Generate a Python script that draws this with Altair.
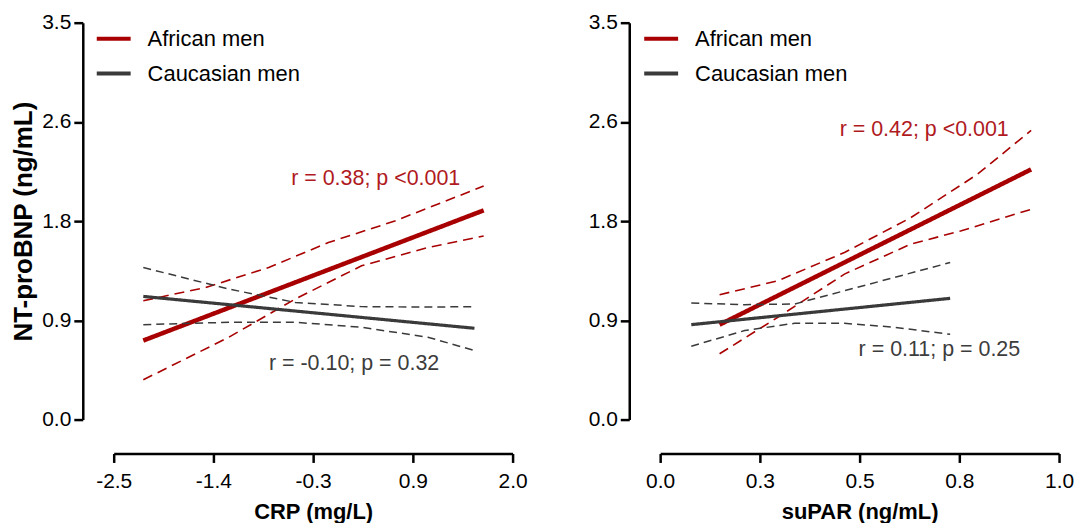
import altair as alt
import pandas as pd

groups = ["African men", "Caucasian men"]

# ---- Left panel: CRP (mg/L) ----
crp_af_fit_x = [-2.166, 1.674]
crp_af_fit_y = [0.697, 1.845]
crp_af_up_x = [-2.166, -1.462, -0.751, -0.078, 0.671, 1.674]
crp_af_up_y = [1.048, 1.165, 1.341, 1.561, 1.751, 2.059]
crp_af_lo_x = [-2.166, -1.201, -0.452, 0.296, 1.045, 1.674]
crp_af_lo_y = [0.351, 0.726, 1.063, 1.356, 1.517, 1.619]

crp_ca_fit_x = [-2.166, 1.570]
crp_ca_fit_y = [1.086, 0.805]
crp_ca_up_x = [-2.166, -1.201, -0.452, 0.296, 1.045, 1.570]
crp_ca_up_y = [1.341, 1.151, 1.033, 0.996, 0.992, 0.996]
crp_ca_lo_x = [-2.166, -1.201, -0.452, 0.296, 1.045, 1.570]
crp_ca_lo_y = [0.837, 0.858, 0.858, 0.814, 0.726, 0.609]

# ---- Right panel: suPAR (ng/mL) ----
supar_af_fit_x = [0.149, 0.930]
supar_af_fit_y = [0.837, 2.206]
supar_af_up_x = [0.149, 0.295, 0.462, 0.628, 0.795, 0.930]
supar_af_up_y = [1.101, 1.224, 1.473, 1.780, 2.162, 2.550]
supar_af_lo_x = [0.149, 0.295, 0.462, 0.628, 0.753, 0.930]
supar_af_lo_y = [0.580, 0.902, 1.283, 1.547, 1.663, 1.854]

supar_ca_fit_x = [0.078, 0.727]
supar_ca_fit_y = [0.837, 1.069]
supar_ca_up_x = [0.078, 0.212, 0.337, 0.462, 0.587, 0.727]
supar_ca_up_y = [1.028, 1.013, 1.019, 1.136, 1.253, 1.385]
supar_ca_lo_x = [0.078, 0.212, 0.337, 0.462, 0.587, 0.727]
supar_ca_lo_y = [0.647, 0.785, 0.849, 0.849, 0.814, 0.752]

# annotations (data coordinates)
crp_notes = ["r = 0.38; p <0.001", "r = -0.10; p = 0.32"]
crp_notes_x = [0.456, 0.212]
crp_notes_y = [2.120, 0.486]
supar_notes = ["r = 0.42; p <0.001", "r = 0.11; p = 0.25"]
supar_notes_x = [0.662, 0.700]
supar_notes_y = [2.557, 0.612]

y_ticks = [0.0, 0.875, 1.75, 2.625, 3.5]
crp_ticks = [-2.5, -1.375, -0.25, 0.875, 2.0]
supar_ticks = [0.0, 0.25, 0.5, 0.75, 1.0]

RED = "#A80000"
GRAY = "#3A3A3A"
RED_TXT = "#B01A1E"
GRAY_TXT = "#3C3C3C"
FONT = "Liberation Sans"

style_keys = ["African men|fit", "African men|ci", "Caucasian men|fit", "Caucasian men|ci"]
style_width = [4.5, 1.6, 3.2, 1.5]
style_dash = [[1, 0], [10, 6], [1, 0], [8, 5]]


def build(parts):
    rows = []
    for group, kind, xs, ys in parts:
        for x, y in zip(xs, ys):
            rows.append({
                "x": x, "y": y, "group": group,
                "series": f"{group}|{kind}",
                "style": f"{group}|{'fit' if kind == 'fit' else 'ci'}",
            })
    return pd.DataFrame(rows)


crp_df = build([
    ("African men", "fit", crp_af_fit_x, crp_af_fit_y),
    ("African men", "upper", crp_af_up_x, crp_af_up_y),
    ("African men", "lower", crp_af_lo_x, crp_af_lo_y),
    ("Caucasian men", "fit", crp_ca_fit_x, crp_ca_fit_y),
    ("Caucasian men", "upper", crp_ca_up_x, crp_ca_up_y),
    ("Caucasian men", "lower", crp_ca_lo_x, crp_ca_lo_y),
])
supar_df = build([
    ("African men", "fit", supar_af_fit_x, supar_af_fit_y),
    ("African men", "upper", supar_af_up_x, supar_af_up_y),
    ("African men", "lower", supar_af_lo_x, supar_af_lo_y),
    ("Caucasian men", "fit", supar_ca_fit_x, supar_ca_fit_y),
    ("Caucasian men", "upper", supar_ca_up_x, supar_ca_up_y),
    ("Caucasian men", "lower", supar_ca_lo_x, supar_ca_lo_y),
])

MINUS_FIX = "replace(format(datum.value, '.1f'), '\u2212', '-')"


def panel(df, notes, nx, ny, xdomain, xticks, xtitle, ytitle, legend_x):
    x_axis = alt.Axis(values=xticks, labelExpr=MINUS_FIX, offset=34, title=xtitle,
                      labelFlush=False, labelOverlap=False, labelPadding=8,
                      titlePadding=10, titleFontSize=22)
    y_kwargs = dict(values=y_ticks, labelExpr=MINUS_FIX, offset=31,
                    labelOverlap=False, titlePadding=5, titleFontSize=26)
    if ytitle:
        y_axis = alt.Axis(title=ytitle, **y_kwargs)
    else:
        y_axis = alt.Axis(title=None, **y_kwargs)

    lines = alt.Chart(df).mark_line().encode(
        x=alt.X("x:Q", scale=alt.Scale(domain=xdomain, nice=False, zero=False), axis=x_axis),
        y=alt.Y("y:Q", scale=alt.Scale(domain=[0, 3.5], nice=False, zero=False), axis=y_axis),
        color=alt.Color("group:N", scale=alt.Scale(domain=groups, range=[RED, GRAY]),
                        legend=alt.Legend(title=None, orient="none", legendX=legend_x, legendY=-3,
                                          symbolType="stroke", symbolSize=1156, symbolStrokeWidth=4,
                                          labelFontSize=22, labelFont=FONT, labelColor="black",
                                          labelOffset=15, rowPadding=5, padding=0)),
        strokeWidth=alt.StrokeWidth("style:N", scale=alt.Scale(type="ordinal", domain=style_keys,
                                                               range=style_width), legend=None),
        strokeDash=alt.StrokeDash("style:N", scale=alt.Scale(type="ordinal", domain=style_keys,
                                                             range=style_dash), legend=None),
        detail="series:N",
    )
    ndf = pd.DataFrame({"x": nx, "y": ny, "label": notes, "group": groups})
    t_red = alt.Chart(ndf).transform_filter(alt.datum.group == groups[0]).mark_text(
        font=FONT, fontSize=21.5, color=RED_TXT, align="center", baseline="middle"
    ).encode(x="x:Q", y="y:Q", text="label:N")
    t_gray = alt.Chart(ndf).transform_filter(alt.datum.group == groups[1]).mark_text(
        font=FONT, fontSize=21.5, color=GRAY_TXT, align="center", baseline="middle"
    ).encode(x="x:Q", y="y:Q", text="label:N")
    return alt.layer(lines, t_red, t_gray).properties(width=400, height=398)


left = panel(crp_df, crp_notes, crp_notes_x, crp_notes_y, [-2.5, 2.0], crp_ticks,
             "CRP (mg/L)", "NT-proBNP (ng/mL)", -19)
right = panel(supar_df, supar_notes, supar_notes_x, supar_notes_y, [0.0, 1.0], supar_ticks,
              "suPAR (ng/mL)", None, -18)

chart = alt.hconcat(left, right, spacing=148, bounds="flush").resolve_scale(
    color="independent", x="independent", y="independent"
).resolve_legend(color="independent").properties(
    padding={"left": 2, "top": 3, "right": 0, "bottom": 0}
).configure(font=FONT, background="white").configure_view(stroke=None).configure_axis(
    domainColor="black", domainWidth=2.5, tickColor="black", tickWidth=2.5, tickSize=9,
    labelFontSize=21, labelColor="black", labelFont=FONT, labelPadding=3,
    titleFont=FONT, titleFontSize=22, titleFontWeight="bold", titleColor="black", grid=False,
)

chart.save("out.html", embed_options={"renderer": "svg", "actions": False})
